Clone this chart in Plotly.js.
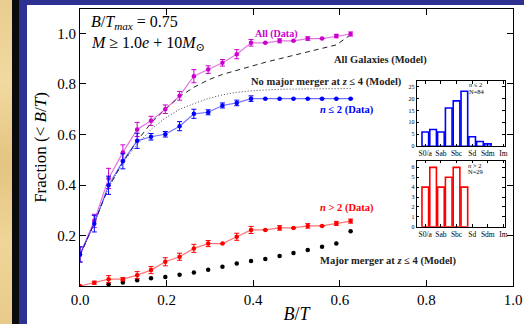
<!DOCTYPE html>
<html><head><meta charset="utf-8">
<script src="https://cdn.plot.ly/plotly-3.0.1.min.js"></script>
<style>
body{margin:0;}
#wrap{position:relative;width:524px;height:324px;overflow:hidden;}
.bg{position:absolute;}
</style></head><body>
<div id="wrap">
<div class="bg" style="left:0;top:0;width:12px;height:324px;background:linear-gradient(180deg,#e9cd8f,#f1d9a0 25%,#e4c581 50%,#efd598 75%,#e8cb8a)"></div>
<div class="bg" style="left:12px;top:0;width:7px;height:324px;background:#0b0b0b"></div>
<div class="bg" style="left:19px;top:0;width:505px;height:324px;background:#2f3192"></div>
<div class="bg" style="left:27px;top:5px;width:497px;height:319px;background:#fff"></div>
<div id="plot" style="position:absolute;left:0;top:0;width:524px;height:324px"></div>
</div>
<script>
// B/T bin positions
const bt = [0.000, 0.033, 0.066, 0.099, 0.132, 0.164, 0.197, 0.230, 0.263, 0.296, 0.329, 0.362, 0.395, 0.428, 0.461, 0.493, 0.526, 0.559, 0.592, 0.625];
// All (Data)
const allData = [0.125, 0.258, 0.426, 0.529, 0.620, 0.654, 0.700, 0.753, 0.831, 0.857, 0.884, 0.918, 0.963, 0.963, 0.971, 0.971, 0.980, 0.980, 0.990, 0.998];
const allErr  = [0.030, 0.026, 0.040, 0.030, 0.028, 0.018, 0.017, 0.017, 0.026, 0.015, 0.013, 0.018, 0.013, null, 0.008, null, 0.007, null, 0.007, 0.008];
// n <= 2 (Data)
const lowN    = [0.125, 0.247, 0.399, 0.494, 0.575, 0.591, 0.601, 0.633, 0.682, 0.688, 0.715, 0.725, 0.742, 0.742, 0.742, 0.742, 0.742, 0.742, 0.742, 0.742];
const lowNErr = [0.030, 0.033, 0.036, 0.030, 0.030, 0.013, 0.011, 0.018, 0.018, 0.010, 0.010, 0.011, 0.011, null, null, null, null, null, null, null];
// n > 2 (Data)
const highN    = [0.000, 0.013, 0.027, 0.027, 0.043, 0.063, 0.096, 0.116, 0.149, 0.168, 0.168, 0.195, 0.222, 0.222, 0.230, 0.230, 0.238, 0.238, 0.248, 0.257];
const highNErr = [null, 0.006, 0.014, 0.006, 0.014, 0.014, 0.016, 0.014, 0.016, 0.012, null, 0.014, 0.014, null, 0.009, null, 0.009, null, 0.008, 0.008];
// Models
const allModel = [0.120, 0.250, 0.390, 0.490, 0.575, 0.645, 0.700, 0.750, 0.787, 0.816, 0.838, 0.855, 0.871, 0.886, 0.900, 0.913, 0.926, 0.940, 0.955, 0.995];
const noMajorModel = [0.120, 0.250, 0.390, 0.490, 0.560, 0.620, 0.665, 0.700, 0.722, 0.742, 0.757, 0.767, 0.773, 0.777, 0.779, 0.780, 0.781, 0.782, 0.782, 0.782];
const mmBT = [0.066, 0.099, 0.132, 0.164, 0.197, 0.230, 0.263, 0.296, 0.329, 0.362, 0.395, 0.428, 0.461, 0.493, 0.526, 0.559, 0.592, 0.625];
const majorModel = [0.007, 0.014, 0.023, 0.031, 0.036, 0.045, 0.053, 0.064, 0.076, 0.089, 0.099, 0.107, 0.119, 0.131, 0.143, 0.155, 0.168, 0.217];
// Inset histograms
const typeLabels = ['S0/a', 'Sab', 'Sbc', 'Sd', 'Sdm', 'Im'];
const typeTicks = [0, 2, 4, 6, 8, 10];
const lowBins = [0, 1, 2, 3, 4, 5, 6, 7, 8];
const lowCounts = [6, 7, 6, 16, 19, 23, 4, 2, 1];
const highBins = [0, 1, 2, 3, 4, 5];
const highCounts = [4, 6, 4, 5, 6, 4];

const FONT = "'Liberation Serif', 'DejaVu Serif', serif";
const MAG = '#cc00cc', BLUE = '#0000ff', RED = '#ff0000';

function dataTrace(y, err, col, lineCol) {
  return {x: bt, y: y, type: 'scatter', mode: 'lines+markers',
    line: {color: lineCol, width: 1.2},
    marker: {color: col, size: 4.5},
    error_y: {type: 'data', array: err, visible: true, color: col, thickness: 1, width: 2.5},
    xaxis: 'x', yaxis: 'y', cliponaxis: true};
}

const traces = [
  {x: bt, y: noMajorModel, type: 'scatter', mode: 'lines', line: {color: '#444', width: 1, dash: '1px,2px'}},
  {x: bt, y: allModel, type: 'scatter', mode: 'lines', line: {color: '#222', width: 1, dash: '5px,4px'}},
  {x: mmBT, y: majorModel, type: 'scatter', mode: 'markers', marker: {color: '#000', size: 4.5}},
  dataTrace(allData, allErr, MAG, 'rgba(204,0,204,0.55)'),
  dataTrace(lowN, lowNErr, BLUE, 'rgba(0,0,255,0.55)'),
  dataTrace(highN, highNErr, RED, 'rgba(255,0,0,0.55)'),
  {x: lowBins, y: lowCounts, type: 'bar', width: 0.85, xaxis: 'x2', yaxis: 'y2',
   marker: {color: '#fff', line: {color: BLUE, width: 1.6}}},
  {x: highBins, y: highCounts, type: 'bar', width: 0.85, xaxis: 'x3', yaxis: 'y3',
   marker: {color: '#fff', line: {color: RED, width: 1.6}}}
];

const baseAx = {showline: true, linecolor: '#000', linewidth: 1, mirror: 'ticks', ticks: 'inside',
  showgrid: false, zeroline: false, tickcolor: '#000'};

const insetX = (anchor) => Object.assign({}, baseAx, {domain: [0.7776, 0.9815], anchor: anchor, range: [-1.1, 10.2],
  tickvals: typeTicks, ticktext: typeLabels, ticklen: 2.5, tickangle: 0, tickfont: {size: 7.5, family: FONT}});

const layout = {
  width: 524, height: 324,
  margin: {l: 80, r: 11, t: 9, b: 38},
  paper_bgcolor: 'rgba(0,0,0,0)', plot_bgcolor: '#fff',
  showlegend: false, bargap: 0,
  font: {family: FONT, color: '#000'},
  xaxis: Object.assign({}, baseAx, {domain: [0, 1], range: [0, 1], tickvals: [0, 0.2, 0.4, 0.6, 0.8, 1.0],
    ticktext: ['0.0', '0.2', '0.4', '0.6', '0.8', '1.0'], ticklen: 6, tickfont: {size: 15, family: FONT},
    title: {text: '<i>B</i>/<i>T</i>', font: {size: 18, family: FONT}, standoff: 4}}),
  yaxis: Object.assign({}, baseAx, {domain: [0, 1], range: [0, 1.097], tickvals: [0.2, 0.4, 0.6, 0.8, 1.0],
    ticktext: ['0.2', '0.4', '0.6', '0.8', '1.0'], ticklen: 6, tickfont: {size: 15, family: FONT},
    title: {text: 'Fraction (&lt; <i>B</i>/<i>T</i>)', font: {size: 17, family: FONT}, standoff: 6}}),
  xaxis2: insetX('y2'),
  yaxis2: Object.assign({}, baseAx, {domain: [0.5043, 0.740], anchor: 'x2', range: [0, 27.3],
    tickvals: [0, 5, 10, 15, 20, 25], ticklen: 2.5, tickfont: {size: 6, family: FONT}}),
  xaxis3: insetX('y3'),
  yaxis3: Object.assign({}, baseAx, {domain: [0.2141, 0.4523], anchor: 'x3', range: [0, 6.67],
    tickvals: [0, 1, 2, 3, 4, 5, 6], ticklen: 2.5, tickfont: {size: 6, family: FONT}}),
  annotations: [
    {xref: 'x', yref: 'y', x: 0.021, y: 1.042, xanchor: 'left', yanchor: 'middle', showarrow: false,
     text: '<i>B</i>/<i>T<sub>max</sub></i> = 0.75', font: {size: 16, family: FONT}},
    {xref: 'x', yref: 'y', x: 0.021, y: 0.962, xanchor: 'left', yanchor: 'middle', showarrow: false,
     text: '<i>M</i> ≥ 1.0<i>e</i> + 10<i>M</i><sub>⊙</sub>', font: {size: 16, family: FONT}},
    {xref: 'x', yref: 'y', x: 0.454, y: 0.998, xanchor: 'center', yanchor: 'middle', showarrow: false,
     text: '<b>All (Data)</b>', font: {size: 10, color: MAG, family: FONT}},
    {xref: 'x', yref: 'y', x: 0.582, y: 0.897, xanchor: 'left', yanchor: 'middle', showarrow: false,
     text: '<b>All Galaxies (Model)</b>', font: {size: 10.5, color: '#222', family: FONT}},
    {xref: 'x', yref: 'y', x: 0.390, y: 0.808, xanchor: 'left', yanchor: 'middle', showarrow: false,
     text: '<b>No major merger at <i>z</i> ≤ 4 (Model)</b>', font: {size: 10.5, color: '#222', family: FONT}},
    {xref: 'x', yref: 'y', x: 0.550, y: 0.699, xanchor: 'left', yanchor: 'middle', showarrow: false,
     text: '<b><i>n</i> ≤ 2 (Data)</b>', font: {size: 10.5, color: BLUE, family: FONT}},
    {xref: 'x', yref: 'y', x: 0.550, y: 0.307, xanchor: 'left', yanchor: 'middle', showarrow: false,
     text: '<b><i>n</i> &gt; 2 (Data)</b>', font: {size: 10.5, color: RED, family: FONT}},
    {xref: 'x', yref: 'y', x: 0.550, y: 0.099, xanchor: 'left', yanchor: 'middle', showarrow: false,
     text: '<b>Major merger at <i>z</i> ≤ 4 (Model)</b>', font: {size: 10.5, color: '#222', family: FONT}},
    {xref: 'x2', yref: 'y2', x: 5.38, y: 25.9, xanchor: 'left', yanchor: 'middle', showarrow: false,
     text: '<i>n</i> ≤ 2', font: {size: 6.5, family: FONT}},
    {xref: 'x2', yref: 'y2', x: 5.38, y: 23.1, xanchor: 'left', yanchor: 'middle', showarrow: false,
     text: 'N=84', font: {size: 6.5, family: FONT}},
    {xref: 'x3', yref: 'y3', x: 5.21, y: 6.17, xanchor: 'left', yanchor: 'middle', showarrow: false,
     text: '<i>n</i> &gt; 2', font: {size: 6.5, family: FONT}},
    {xref: 'x3', yref: 'y3', x: 5.21, y: 5.57, xanchor: 'left', yanchor: 'middle', showarrow: false,
     text: 'N=29', font: {size: 6.5, family: FONT}}
  ]
};

Plotly.newPlot('plot', traces, layout, {displayModeBar: false, staticPlot: true});
</script>
</body></html>
